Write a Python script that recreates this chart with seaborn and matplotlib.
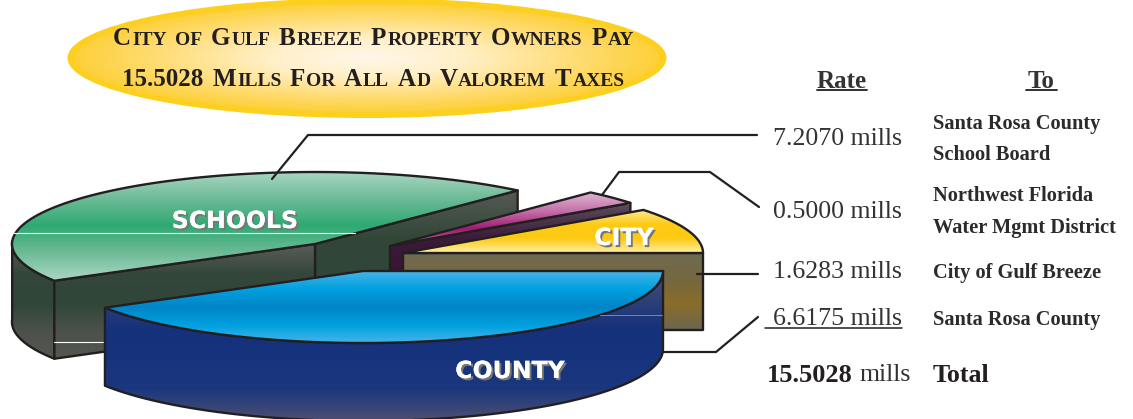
import re
import numpy as np
import matplotlib
matplotlib.use('Agg')
import matplotlib.pyplot as plt
import matplotlib.patheffects as pe
from matplotlib.patches import Polygon, Ellipse
import seaborn as sns

title_lines = ['City of Gulf Breeze Property Owners Pay', '15.5028 Mills For All Ad Valorem Taxes']
slice_names = ['SCHOOLS', 'WATER', 'CITY', 'COUNTY']
rates = [7.2070, 0.5000, 1.6283, 6.6175]
total_rate = 15.5028
to_labels = [['Santa Rosa County', 'School Board'],
             ['Northwest Florida', 'Water Mgmt District'],
             ['City of Gulf Breeze'],
             ['Santa Rosa County']]

sns.set_theme(style='white')
plt.rcParams['font.family'] = ['Liberation Serif', 'DejaVu Serif']

fig = plt.figure(figsize=(11.33, 4.19), dpi=100)
ax = fig.add_axes([0, 0, 1, 1])
renderer = fig.canvas.get_renderer()
INK = '#231f20'
RX, RY, DEPTH = 300, 72, 78
zorder = [1]

# slice angles come from the rates, going round from the city slice
angles = np.array(rates) / sum(rates) * 360
city_end = angles[2]
water_end = city_end + angles[1]
schools_end = water_end + angles[0]


def arc(cx, cy, a1, a2, drop=0, rx=RX):
    t = np.radians(np.linspace(a1, a2, 90))
    return np.column_stack([cx + rx * np.cos(t), cy + drop - RY * np.sin(t)])


def piece(points, colors, y0, y1, lw=1.7):
    points = np.array(points)
    z = zorder[0]
    zorder[0] += 2
    patch = Polygon(points, closed=True, fc='none', ec=INK, lw=lw, zorder=z + 1, joinstyle='round')
    ax.add_patch(patch)
    grad = np.linspace(0, 1, 256).reshape(-1, 1)
    img = ax.imshow(grad, cmap=sns.blend_palette(colors, as_cmap=True), aspect='auto', zorder=z,
                    extent=[points[:, 0].min(), points[:, 0].max(), y1, y0], origin='upper')
    img.set_clip_path(patch)


def wall(p, q, drop=DEPTH):
    return [p, q, (q[0], q[1] + drop), (p[0], p[1] + drop)]


def small_caps(s, y, x_center, big=18, small=14):
    runs = re.findall(r'[a-z]+|[^a-z ]+| ', s)
    items = []
    width = 0
    for r in runs:
        if r == ' ':
            width += 7.5
            continue
        size = small if r.islower() else big
        t = ax.text(0, y, r.upper(), fontsize=size, color=INK, va='baseline', ha='left',
                    fontweight='bold', zorder=100)
        w = t.get_window_extent(renderer).width + 1
        items.append((t, width))
        width += w
    for t, off in items:
        t.set_x(x_center - width / 2 + off)


# title ellipse
rim = Ellipse((367, 58), 599, 120, fc='#fdcf1e', ec='none', zorder=zorder[0])
ax.add_patch(rim)
zorder[0] += 1
xx, yy = np.meshgrid(np.linspace(-1, 1, 400), np.linspace(-1, 1, 200))
glow = ax.imshow(np.clip(np.hypot(xx, yy), 0, 1), extent=[75, 659, 112, 4], aspect='auto',
                 cmap=sns.blend_palette(['#fff8ea', '#fff0c8', '#ffdf80', '#fdd03a'], as_cmap=True),
                 zorder=zorder[0])
inner = Ellipse((367, 58), 584, 108, fc='none', ec='none', transform=ax.transData)
ax.add_patch(inner)
glow.set_clip_path(inner)
zorder[0] += 1
small_caps(title_lines[0], 45, 374)
small_caps(title_lines[1], 86, 374)

# schools
sx, sy, srx = 315, 244, 303
green = ['#aad7c2', '#6dbb97', '#2fa972', '#6dbb97', '#aad7c2']
gray_wall = ['#585c57', '#34473a', '#2f4638', '#4c514b', '#545851']
p_end = arc(sx, sy, schools_end, schools_end, rx=srx)[0]
p_start = arc(sx, sy, water_end, water_end, rx=srx)[0]
piece(wall((sx, sy), p_start), ['#565b55', '#334739', '#2f4638'], 190, 285)
left = arc(sx, sy, 178, schools_end, rx=srx)
piece(np.vstack([left, arc(sx, sy, schools_end, 178, DEPTH, rx=srx)]), gray_wall, 245, 360)
piece(wall(p_end, (sx, sy)), gray_wall, 245, 360)
piece(np.vstack([[(sx, sy)], arc(sx, sy, water_end, schools_end, rx=srx)]), green, 172, 280)
ax.plot([14, 355], [233, 233], color='white', lw=0.8, zorder=zorder[0])
ax.plot([54, 105], [342, 342], color='white', lw=0.8, zorder=zorder[0])
zorder[0] += 1

# water
wx, wy = 390, 246
w_start = arc(wx, wy, city_end, city_end)[0]
piece(wall((wx, wy), w_start), ['#5c4a5c', '#3a1b38', '#3a1436'], 205, 272)
piece(np.vstack([[(wx, wy)], arc(wx, wy, city_end, water_end)]),
      ['#dcb0cf', '#c46fa8', '#a01a72', '#c56fa8'], 194, 246)

# city
cx, cy = 403, 253
piece(wall((cx, cy), (cx + RX, cy), drop=77), ['#6f6a52', '#74683f', '#8a6c2a', '#6a6650'], 253, 330)
piece(np.vstack([[(cx, cy)], arc(cx, cy, 0, city_end)]),
      ['#ffe98c', '#fdca14', '#fdca14', '#fff0a8'], 210, 253)

# county
kx, ky = 363, 271
piece(np.vstack([arc(kx, ky, schools_end, 360), arc(kx, ky, 360, schools_end, DEPTH)]),
      ['#4a4f78', '#2c4078', '#15317c', '#16337c', '#1b387e', '#4b4d72'], 271, 419)
piece(np.vstack([[(kx, ky)], arc(kx, ky, schools_end, 360)]),
      ['#45b4ea', '#00a0de', '#0085c8', '#00a0de', '#45b4ea'], 271, 343)
ax.plot([600, 662], [315, 315], color='#8c8a6a', lw=0.7, zorder=zorder[0])
zorder[0] += 1

# leader lines
leaders = [([272, 308, 757], [179, 135, 135]),
           ([602, 619, 710, 759], [195, 172, 172, 207]),
           ([697, 758], [274, 274]),
           ([663, 716, 758], [352, 352, 317])]
for lx, ly in leaders:
    ax.plot(lx, ly, color=INK, lw=1.6, zorder=zorder[0], solid_joinstyle='miter')

# labels on the slices
label_xy = {'SCHOOLS': (235, 221), 'CITY': (624, 238), 'COUNTY': (510, 371)}
for name, (lx, ly) in label_xy.items():
    ax.text(lx, ly, name, color='white', fontsize=17, fontweight='bold', family='DejaVu Sans',
            ha='center', va='center', zorder=100,
            path_effects=[pe.withSimplePatchShadow(offset=(1.5, -1.5), shadow_rgbFace='#777777', alpha=1),
                          pe.Normal()])

# rate table
rate_y = [139, 212, 272, 319]
for r, y in zip(rates, rate_y):
    ax.text(902, y, f'{r:.4f} mills', fontsize=18.6, color='#333333', ha='right', va='center', zorder=100)
ax.plot([765, 902], [328, 328], color=INK, lw=1.1, zorder=100)
ax.text(842, 81, 'Rate', fontsize=18, fontweight='bold', color='#333333', ha='center', va='center')
ax.text(1041, 81, 'To', fontsize=18, fontweight='bold', color='#333333', ha='center', va='center')
ax.plot([817, 867], [90, 90], color=INK, lw=1.3)
ax.plot([1026, 1057], [90, 90], color=INK, lw=1.3)

to_y = [[124, 155], [196, 228], [273], [320]]
for lines, ys in zip(to_labels, to_y):
    for line, y in zip(lines, ys):
        ax.text(933, y, line, fontsize=14.7, fontweight='bold', color='#2b2b2b', ha='left', va='center')

ax.text(853, 375, f'{total_rate:.4f}', fontsize=19, fontweight='bold', color=INK, ha='right', va='center')
ax.text(860, 375, 'mills', fontsize=18.6, color='#333333', ha='left', va='center')
ax.text(933, 375, 'Total', fontsize=18.6, fontweight='bold', color=INK, ha='left', va='center')

ax.set_xlim(0, 1133)
ax.set_ylim(419, 0)
ax.axis('off')
fig.savefig('out.png', dpi=100)
